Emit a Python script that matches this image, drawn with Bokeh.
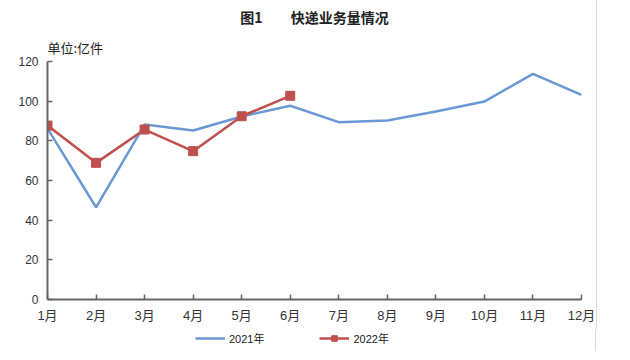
from bokeh.plotting import figure
from bokeh.layouts import column
from bokeh.models import Range1d, FixedTicker, Title, Legend, LegendItem
from bokeh.embed import file_html
from bokeh.resources import INLINE

months = [1, 2, 3, 4, 5, 6, 7, 8, 9, 10, 11, 12]
month_labels = ["1月", "2月", "3月", "4月", "5月", "6月", "7月", "8月", "9月", "10月", "11月", "12月"]
v2021 = [86.2, 46.5, 88.2, 85.2, 92.3, 97.7, 89.4, 90.3, 94.8, 99.8, 113.8, 103.2]
months_2022 = [1, 2, 3, 4, 5, 6]
v2022 = [87.7, 68.9, 85.7, 74.8, 92.4, 102.7]
y_ticks = [0, 20, 40, 60, 80, 100, 120]
series_names = ["2021年", "2022年"]

FONT = "Liberation Sans, Noto Sans CJK SC"
CJK = "Noto Sans CJK SC"
blue = "#6A98D4"
red = "#C0504D"

p = figure(frame_width=533, frame_height=238, output_backend="svg", toolbar_location=None,
           x_range=Range1d(1, 12), y_range=Range1d(0, 120),
           min_border_left=47, min_border_right=16, min_border_top=61, min_border_bottom=30)
p.outline_line_color = None
p.xgrid.visible = False
p.ygrid.visible = False
p.background_fill_color = "white"
p.styles = {"border-right": "1px solid #d9d9d9"}

p.line(months, v2021, line_color=blue, line_width=2.5)
p.line(months_2022, v2022, line_color=red, line_width=2.5)
p.scatter(months_2022, v2022, marker="square", size=9, fill_color=red, line_color=red)

for ax in (p.xaxis[0], p.yaxis[0]):
    ax.axis_line_color = "#666666"
    ax.axis_line_width = 2
    ax.major_tick_line_color = "#666666"
    ax.major_tick_line_width = 1.5
    ax.major_tick_in = 5
    ax.major_tick_out = 0
    ax.minor_tick_line_color = None
    ax.major_label_text_color = "#333333"
    ax.major_label_text_font = FONT

p.xaxis.ticker = FixedTicker(ticks=months)
p.xaxis.major_label_overrides = {m: l for m, l in zip(months, month_labels)}
p.xaxis.major_label_text_font_size = "13px"
p.xaxis.major_label_standoff = 8
p.yaxis.ticker = FixedTicker(ticks=y_ticks)
p.yaxis.major_label_text_font_size = "12px"
p.yaxis.major_label_standoff = 9

p.title.text = "图1　　快递业务量情况"
p.title.align = "center"
p.title.offset = -10
p.title.text_font = CJK
p.title.text_font_size = "14px"
p.title.text_font_style = "bold"
p.title.text_color = "#222222"
p.title.standoff = 9

p.add_layout(Title(text="单位:亿件", align="left", text_font=CJK, text_font_size="13px",
                   text_font_style="normal", text_color="#222222", standoff=9), "above")

# legend strip below the chart (series lie outside this strip's range, only the legend shows)
p2 = figure(width=596, height=22, output_backend="svg", toolbar_location=None,
            x_range=Range1d(100, 101), y_range=Range1d(1000, 1001),
            x_axis_location=None, y_axis_location=None,
            min_border_left=0, min_border_right=0, min_border_top=0, min_border_bottom=0)
p2.outline_line_color = None
p2.xgrid.visible = False
p2.ygrid.visible = False
p2.styles = {"border-right": "1px solid #d9d9d9"}
l1 = p2.line(months, v2021, line_color=blue, line_width=2.5)
l2 = p2.line(months_2022, v2022, line_color=red, line_width=2.5)
l3 = p2.scatter(months_2022, v2022, marker="square", size=8, fill_color=red, line_color=red)

legend = Legend(items=[LegendItem(label=series_names[0], renderers=[l1]),
                       LegendItem(label=series_names[1], renderers=[l2, l3])],
                orientation="horizontal", location=(148, 5),
                label_text_font=FONT, label_text_font_size="11px", label_text_color="#222222",
                glyph_width=30, glyph_height=14, label_height=14, spacing=55, padding=0, margin=0,
                border_line_color=None, label_standoff=4, background_fill_alpha=0)
p2.add_layout(legend, "center")

layout = column(p, p2, spacing=0)
open("out.html", "w").write(file_html(layout, INLINE))
